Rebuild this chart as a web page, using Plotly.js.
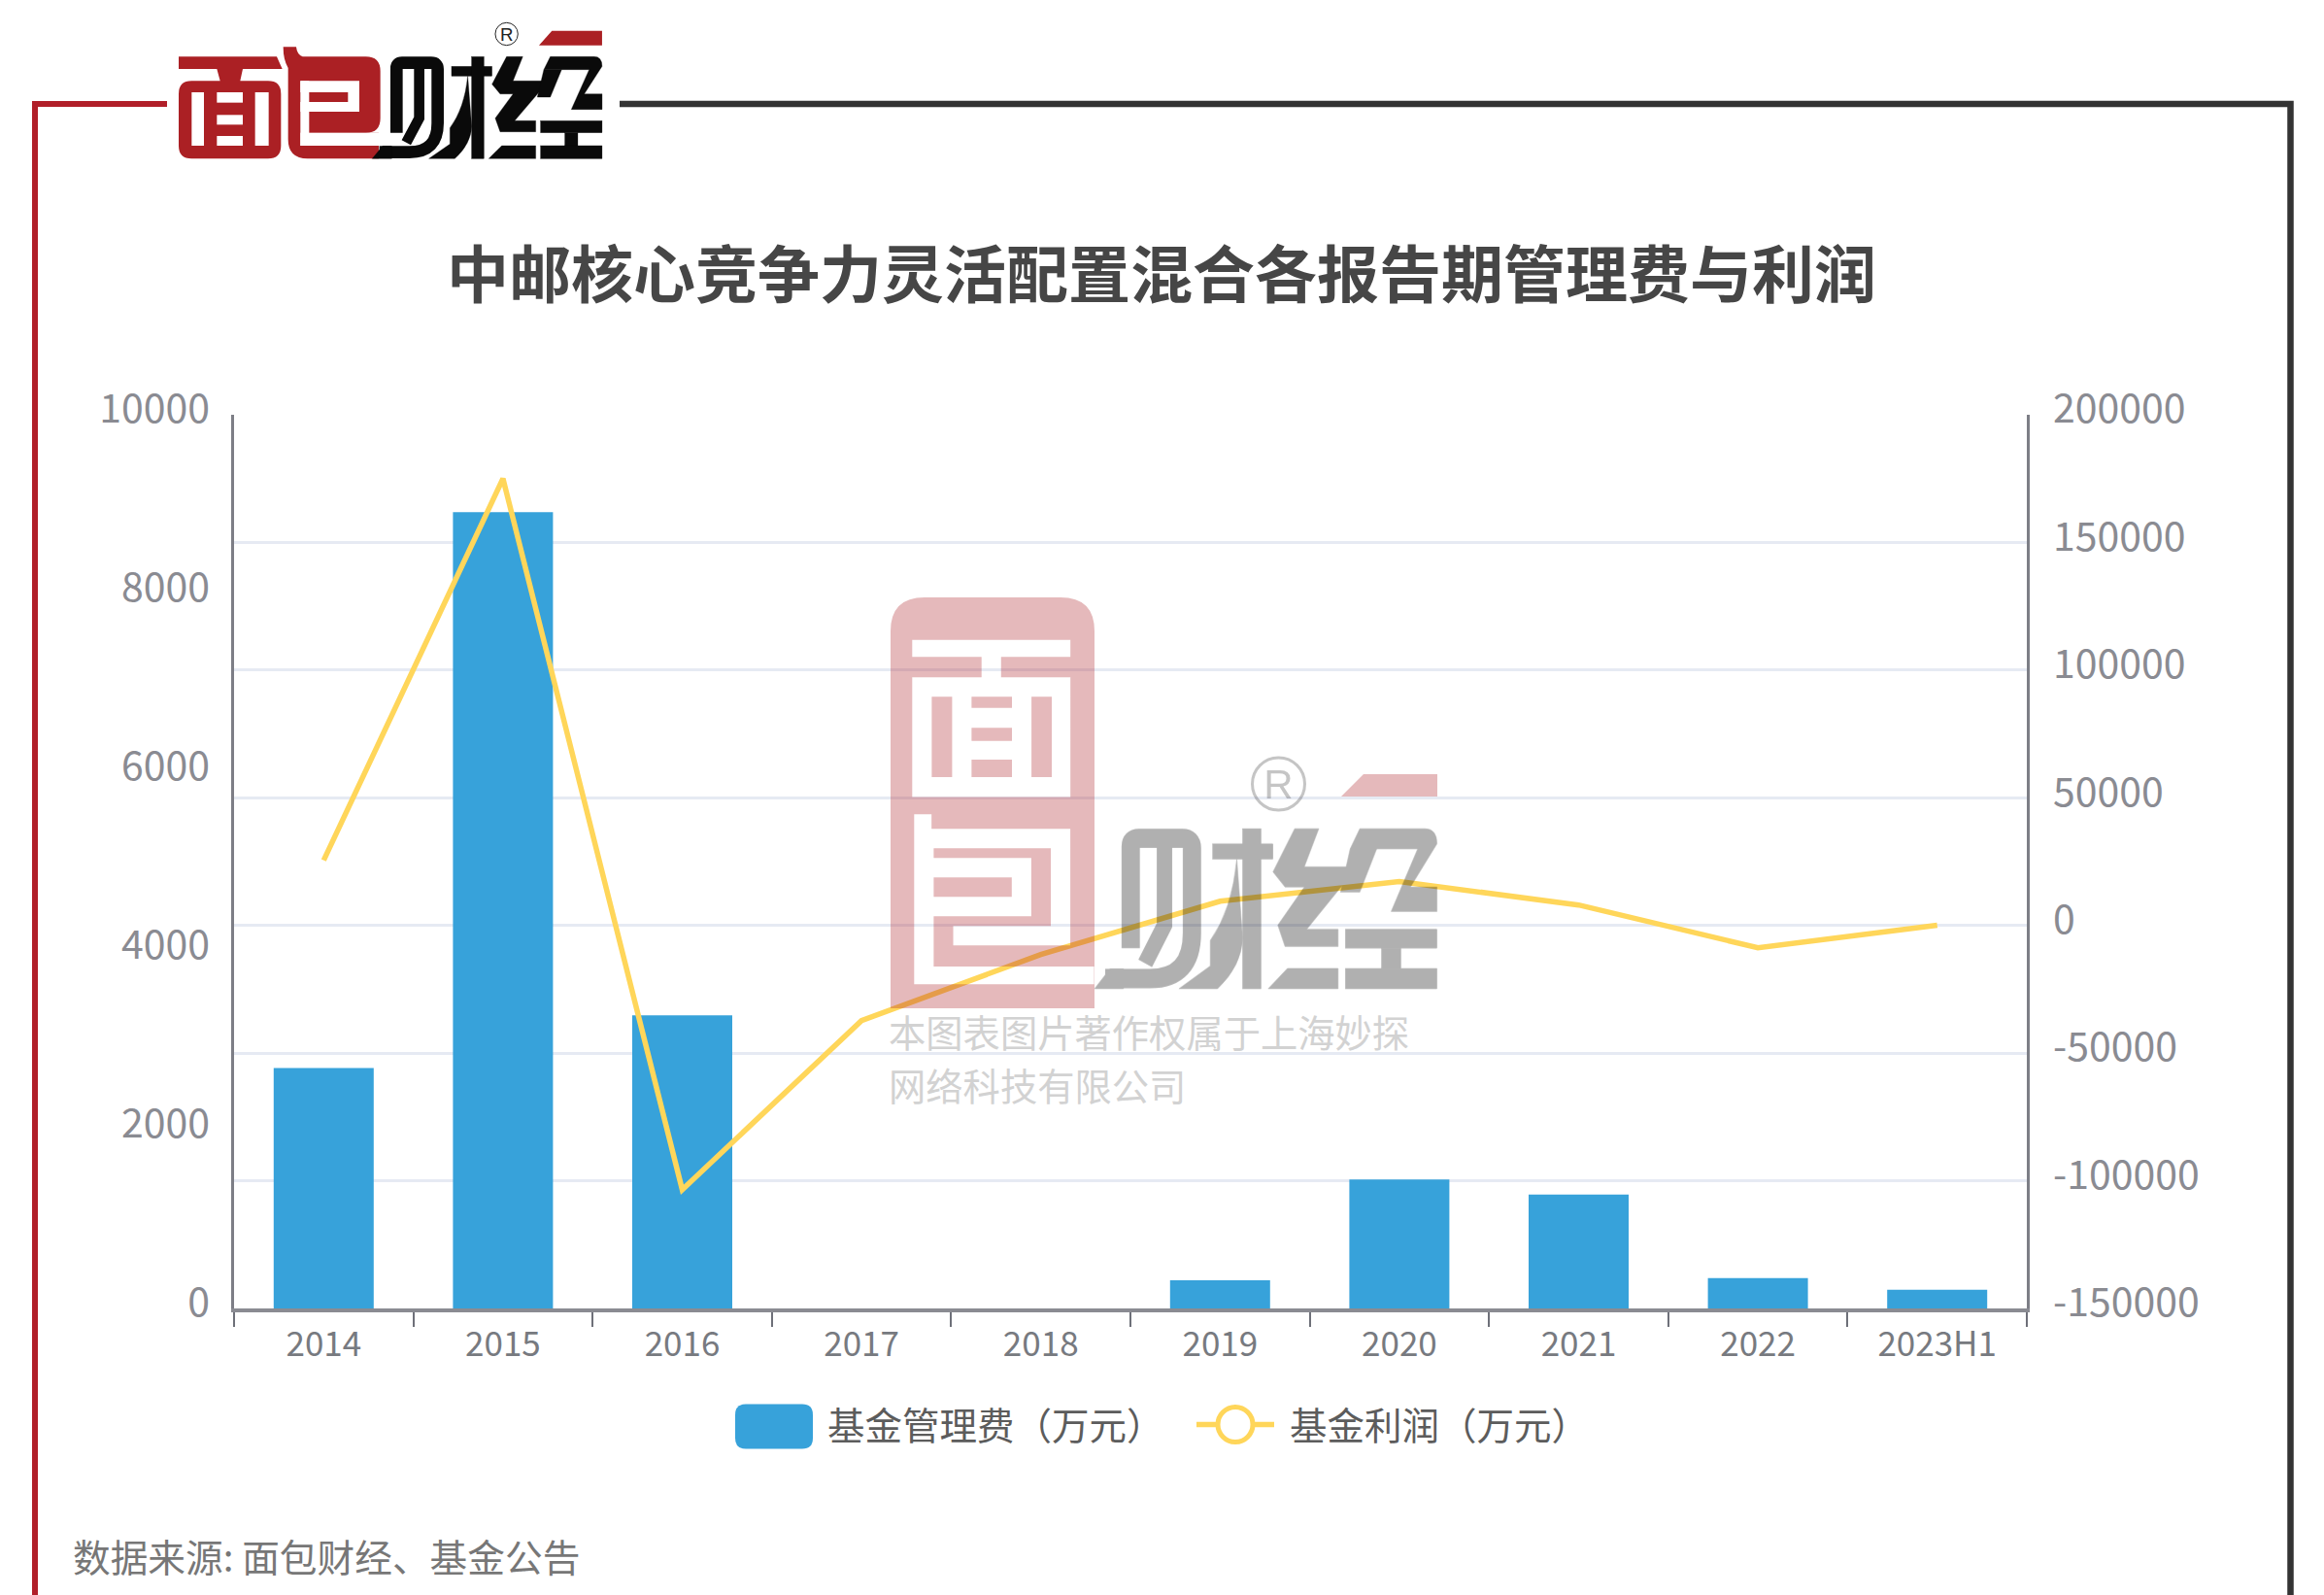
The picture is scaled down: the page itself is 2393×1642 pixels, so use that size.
<!DOCTYPE html>
<html><head><meta charset="utf-8">
<script src="https://cdn.plot.ly/plotly-3.0.1.min.js"></script>
<style>html,body{margin:0;padding:0;background:#fff}#wrap{position:relative;width:2393px;height:1642px;overflow:hidden}#chart{position:absolute;left:0;top:0;width:2393px;height:1642px}#art{position:absolute;left:0;top:0;pointer-events:none}</style>
</head><body><div id="wrap"><div id="chart"></div>
<svg id="art" width="2393" height="1642" viewBox="0 0 2393 1642" xmlns="http://www.w3.org/2000/svg">
<defs>
<g id="cai">
  <path d="M715 365 V165 Q715 149 732 149 H822 Q842 149 842 168 V335 Q842 425 755 425 H662" fill="none" stroke-width="38" stroke-linejoin="round"/>
  <path d="M640 445 L672 406 H700 V445 Z"/>
  <path d="M785 165 V320 L745 395" fill="none" stroke-width="32"/>
  <rect x="885" y="160" width="125" height="30"/>
  <rect x="947" y="130" width="38" height="315"/>
  <path d="M935 190 Q925 290 880 350 V400 L815 445 H895 Q945 400 947 345 Z"/>
  <path d="M1055 130 L1010 215 L1035 245 H1075 L1020 320 L1035 362 H1145 V328 H1080 L1185 205 H1075 L1105 130 Z"/>
  <path d="M1000 445 L1040 405 H1145 V445 Z"/>
  <path d="M1190 130 H1325 Q1350 130 1350 160 L1295 245 H1350 V293 H1255 L1310 170 H1170 Z"/>
  <path d="M1170 170 H1225 L1190 255 H1150 Z" />
  <rect x="1160" y="328" width="190" height="37"/>
  <rect x="1235" y="365" width="40" height="40"/>
  <rect x="1160" y="405" width="190" height="40"/>
</g>
</defs>
<path d="M172 107 H36 V1642" fill="none" stroke="#B11F29" stroke-width="6"/>
<path d="M638 107 H2358.5 V1642" fill="none" stroke="#333333" stroke-width="6.5"/>
<g transform="translate(170 15) scale(.3333)">
  <g fill="#AB2024">
    <path d="M42 130 H345 L362 168 H240 L232 205 H318 Q358 205 358 245 V405 Q358 445 318 445 H82 Q42 445 42 405 V245 Q42 205 82 205 H170 L160 168 H42 Z"/>
    <path d="M365 100 H405 Q408 125 425 130 H620 Q665 130 665 175 V320 Q665 365 620 365 H660 V445 H440 Q380 445 380 385 V165 Q365 140 365 100 Z"/>
  </g>
  <g fill="#fff">
    <rect x="82" y="240" width="38" height="165"/><rect x="278" y="240" width="42" height="165"/>
    <rect x="160" y="240" width="80" height="32"/><rect x="160" y="310" width="80" height="30"/><rect x="160" y="375" width="80" height="30"/>
    <path d="M418 205 H600 V300 H418 V270 H565 V240 H418 Z"/>
    <rect x="418" y="205" width="27" height="200"/>
    <rect x="418" y="365" width="260" height="40"/>
  </g>
  <use href="#cai" fill="#0a0a0a" stroke="#0a0a0a"/>
  <path d="M1155 95 L1195 50 H1350 V95 Z" fill="#AB2024"/>
  <circle cx="1055" cy="60" r="35" fill="none" stroke="#222" stroke-width="3"/>
  <text x="1055" y="80" text-anchor="middle" font-family="Liberation Sans" font-size="56" fill="#222">R</text>
</g>
<g opacity=".31">
  <path id="wmred" fill="#AB1F24" fill-rule="evenodd" d="M917 650 Q917 615 952 615 H1092 Q1127 615 1127 650 V1038 H917 Z"/>
  <g transform="translate(1127 853) scale(1.49 1.57) scale(.3333) translate(-640 -130)" fill="#000" stroke="#000"><use href="#cai"/></g>
  <path d="M1381 820 L1404 797 H1480 V820 Z" fill="#AB1F24"/>
  <ellipse cx="1316.5" cy="807" rx="27" ry="27" fill="none" stroke="#444" stroke-width="3"/>
  <text x="1316.5" y="822" text-anchor="middle" font-family="Liberation Sans" font-size="42" fill="#444">R</text>
</g>
</svg></div>
<script>
const categories = ['2014','2015','2016','2017','2018','2019','2020','2021','2022','2023H1'];
const feeValues = [2690, 8911, 3279, 0, 0, 315, 1444, 1275, 340, 210];
const profitValues = [25500, 175000, -103500, -37250, -11400, 9500, 17200, 8000, -8750, 100];
const leftTicks = [0, 2000, 4000, 6000, 8000, 10000];
const rightTicks = [-150000, -100000, -50000, 0, 50000, 100000, 150000, 200000];
const feeName = '基金管理费（万元）';
const profitName = '基金利润（万元）';
const chartTitle = '中邮核心竞争力灵活配置混合各报告期管理费与利润';
const sourceNote = '数据来源: 面包财经、基金公告';
const markLine1 = '本图表图片著作权属于上海妙探';
const markLine2 = '网络科技有限公司';

const CJK = '"Noto Sans CJK SC","Noto Sans",sans-serif';
const W = 2393, H = 1642;
const PL = 241, PR = 2087, PT = 427, PB = 1347;
const px = v => (v - PL) / (PR - PL), py = v => (PB - v) / (PB - PT);

(function () {
  const a = (x, y) => [850 + x / 2.24, 580 + y / 2.6];
  const b = (x, y) => [640 + x / 2.24, 820 + y / 3];
  const poly = (f, pts) => 'M' + pts.map(p => f(p[0], p[1]).map(n => n.toFixed(1)).join(' ')).join('L') + 'Z';
  const r = (f, x0, y0, x1, y1) => poly(f, [[x0, y0], [x1, y0], [x1, y1], [x0, y1]]);
  const outlines = [
    poly(a, [[200,205],[565,205],[565,250],[405,250],[405,305],[565,305],[565,625],[200,625],[200,305],[360,305],[360,250],[200,250]]),
    r(a,245,357,292,572), r(a,475,357,522,572), r(a,337,357,430,387), r(a,337,440,430,475), r(a,337,525,430,572),
    poly(b, [[675,55],[715,55],[715,100],[1035,100],[1035,460],[765,460],[765,400],[990,400],[990,160],[720,160],[720,190],[945,190],[945,370],[720,370],[720,525],[1090,525],[1090,580],[675,580]]),
    r(b,720,250,900,310)
  ];
  const red = document.getElementById('wmred');
  red.setAttribute('d', red.getAttribute('d') + ' ' + outlines.slice(0, 7).join(' '));
  const bar = document.createElementNS('http://www.w3.org/2000/svg', 'path');
  bar.setAttribute('d', outlines[7]); bar.setAttribute('fill', '#AB1F24');
  red.parentNode.insertBefore(bar, red.nextSibling);
})();

const traces = [
  { type: 'bar', name: feeName, x: categories, y: feeValues, yaxis: 'y', marker: { color: '#37A2DA', line: { width: 0 } } },
  { type: 'scatter', mode: 'lines', name: profitName, x: categories, y: profitValues, yaxis: 'y2', line: { color: '#FFD65A', width: 5.5 } }
];

const layout = {
  width: W, height: H, paper_bgcolor: '#fff', plot_bgcolor: 'rgba(0,0,0,0)',
  margin: { l: PL, r: W - PR, t: PT, b: H - PB, pad: 0 },
  font: { family: CJK },
  bargap: 0.442,
  title: { text: '<b>' + chartTitle + '</b>', font: { size: 64, color: '#464646', family: CJK }, x: 1196 / W, xanchor: 'center', y: 1 - 284 / H, yanchor: 'middle' },
  xaxis: {
    type: 'category', categoryorder: 'array', categoryarray: categories, tickson: 'boundaries', ticks: 'outside', ticklen: 15, tickwidth: 2, tickcolor: '#6E7079',
    showline: true, linecolor: '#8A8B92', linewidth: 4, showgrid: false, zeroline: false, ticklabelstandoff: 3,
    tickfont: { size: 35, color: '#777a80', family: CJK }
  },
  yaxis: {
    range: [0, 10000], tickmode: 'array', tickvals: leftTicks, ticktext: leftTicks.map(String), showgrid: false, zeroline: false,
    showline: true, linecolor: '#7D7E86', linewidth: 2.5, ticks: '', ticklabelstandoff: 14, ticklabelshift: -6,
    tickfont: { size: 41, color: '#8a8b92', family: CJK }
  },
  yaxis2: {
    overlaying: 'y', side: 'right', range: [-150000, 200000], tickmode: 'array', tickvals: rightTicks, ticktext: rightTicks.map(String),
    showgrid: true, gridcolor: '#E6EAF3', gridwidth: 2.5, zeroline: false,
    showline: true, linecolor: '#7D7E86', linewidth: 2.5, ticks: '', ticklabelstandoff: 16, ticklabelshift: -6,
    tickfont: { size: 41, color: '#8a8b92', family: CJK }
  },
  showlegend: true,
  legend: {
    orientation: 'h', x: px(752), xanchor: 'left', y: py(1467), yanchor: 'middle', itemwidth: 80, entrywidth: 380, entrywidthmode: 'pixels', bgcolor: 'rgba(0,0,0,0)',
    font: { size: 38.5, color: '#5c5c5c', family: CJK }, itemclick: false, itemdoubleclick: false
  },
  annotations: [
    { xref: 'paper', yref: 'paper', x: px(73), y: py(1601), xanchor: 'left', yanchor: 'middle', showarrow: false, text: sourceNote, font: { size: 38.7, color: '#777777', family: CJK } },
    { xref: 'paper', yref: 'paper', x: px(913), y: py(1061), xanchor: 'left', yanchor: 'middle', showarrow: false, text: markLine1, font: { size: 38.3, color: '#d2d2d2', family: CJK } },
    { xref: 'paper', yref: 'paper', x: px(913), y: py(1116), xanchor: 'left', yanchor: 'middle', showarrow: false, text: markLine2, font: { size: 38.3, color: '#d2d2d2', family: CJK } }
  ]
};

Plotly.newPlot('chart', traces, layout, { displayModeBar: false }).then(function () {
  const items = document.querySelectorAll('#chart .legend .traces');
  if (items.length < 2) return;
  const bar = items[0].querySelector('.legendpoints path');
  if (bar) {
    bar.setAttribute('d', 'M-40,-10Q-40,-21 -29,-21H29Q40,-21 40,-10V14Q40,25 29,25H-29Q-40,25 -40,14Z');
    bar.style.strokeWidth = '0';
  }
  const shifts = [10, 11];
  items.forEach(function (it, i) {
    const t = it.querySelector('.legendtext');
    if (t) t.setAttribute('x', parseFloat(t.getAttribute('x')) + shifts[i]);
  });
  const g = items[1].querySelector('.legendlines');
  if (g) {
    const c = document.createElementNS('http://www.w3.org/2000/svg', 'circle');
    c.setAttribute('cx', 45); c.setAttribute('cy', 0); c.setAttribute('r', 18);
    c.setAttribute('fill', '#fff'); c.setAttribute('stroke', '#FFD65A'); c.setAttribute('stroke-width', 5);
    g.appendChild(c);
  }
});
</script></body></html>
